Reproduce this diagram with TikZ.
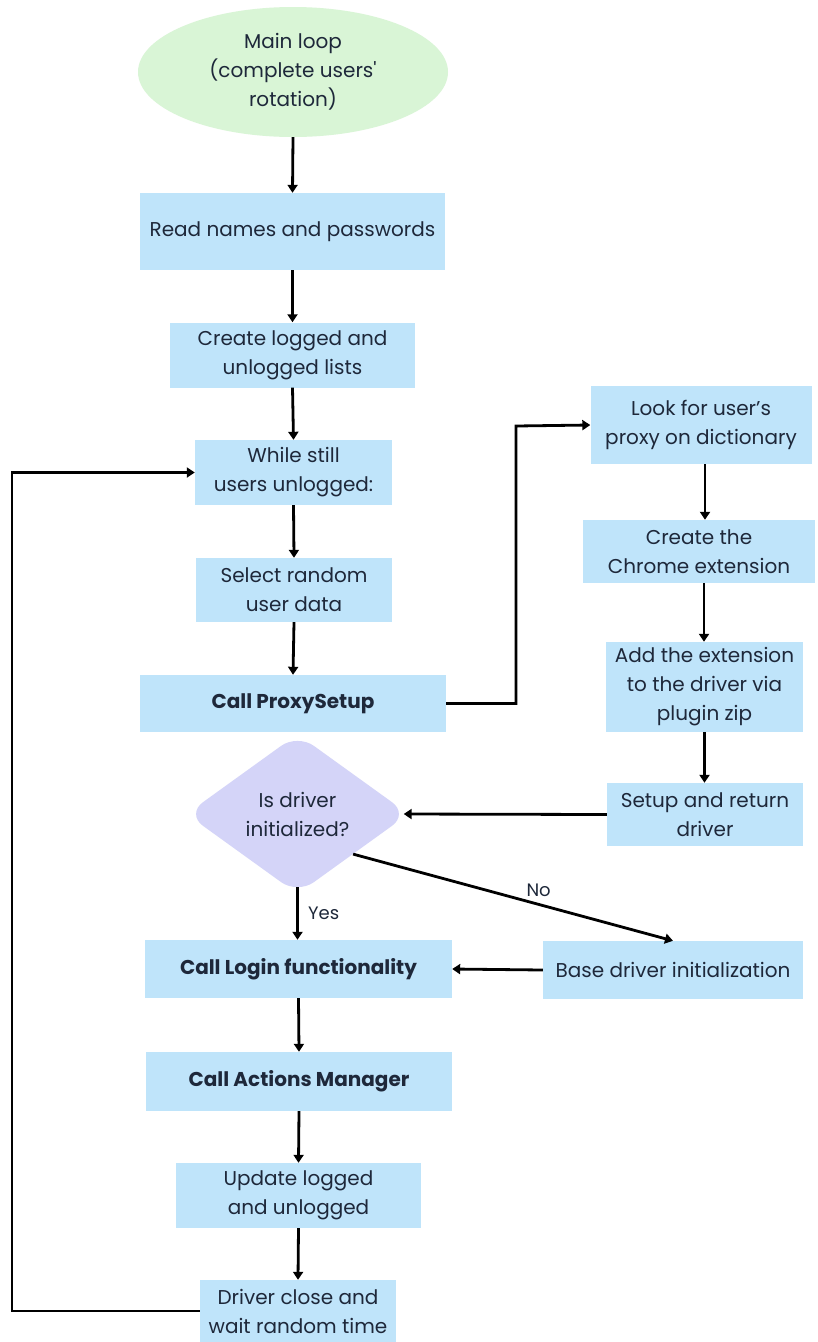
\documentclass[tikz,border=0pt]{standalone}
\usepackage{fontspec}
\setmainfont{Poppins}
\usetikzlibrary{shapes.geometric,arrows.meta}
\definecolor{boxblue}{RGB}{191,228,250}
\definecolor{ovalgreen}{RGB}{217,245,214}
\definecolor{diamondlav}{RGB}{212,212,248}
\definecolor{txt}{RGB}{30,40,58}
\tikzset{
  base/.style={inner sep=0pt, text=txt, align=center, font=\fontsize{20}{29}\selectfont},
  proc/.style={base, rectangle, fill=boxblue, minimum width=#1},
  oval/.style={base, ellipse, fill=ovalgreen, minimum width=310pt, minimum height=130pt},
  decis/.style={base, diamond, fill=diamondlav, rounded corners=20pt, minimum width=222pt, minimum height=160pt, aspect=1.39},
  conn/.style={line width=2.8pt, -{Triangle[width=10pt,length=8pt]}},
  boldtxt/.style={font=\fontsize{20}{29}\selectfont\bfseries},
  lbl/.style={text=txt, font=\fontsize{18}{21}\selectfont}
}
\begin{document}
\begin{tikzpicture}[x=1pt,y=-1pt]
\useasboundingbox (0,0) rectangle (818,1342);
\fill[white] (0,0) rectangle (818,1342);
\node[oval] (main) at (293,72) {Main loop\\(complete users\textquotesingle\\rotation)};
\node[proc=305pt, minimum height=77pt] (read) at (292.5,231.5) {Read names and passwords};
\node[proc=245pt, minimum height=65pt] (create) at (292.5,355) {Create logged and\\unlogged lists};
\node[proc=197pt, minimum height=65pt] (while) at (293.5,472.5) {While still\\users unlogged:};
\node[proc=196pt, minimum height=64pt] (select) at (294,590) {Select random\\user data};
\node[proc=306pt, minimum height=57pt, boldtxt] (proxy) at (293,703.5) {Call ProxySetup};
\node[proc=221pt, minimum height=78pt] (look) at (701,425) {Look for user's\\proxy on dictionary};
\node[proc=232pt, minimum height=63pt] (chrome) at (699,551.5) {Create the\\Chrome extension};
\node[proc=197pt, minimum height=90pt] (add) at (704.5,687) {Add the extension\\to the driver via\\plugin zip};
\node[proc=196pt, minimum height=63pt] (setup) at (705,814.5) {Setup and return\\driver};
\node[decis] (dec) at (297.5,814) {Is driver\\initialized?};
\node[proc=307pt, minimum height=58pt, boldtxt] (login) at (298.5,969) {Call Login functionality};
\node[proc=260pt, minimum height=58pt] (basei) at (673,970) {Base driver initialization};
\node[proc=306pt, minimum height=59pt, boldtxt] (actions) at (299,1081.5) {Call Actions Manager};
\node[proc=245pt, minimum height=65pt] (update) at (298.5,1195.5) {Update logged\\and unlogged};
\node[proc=196pt, minimum height=62pt] (driver) at (298,1311) {Driver close and\\wait random time};
\coordinate (pj) at (516,426);
\coordinate (lp) at (12,1311);
\draw[conn] (main.south) -- (read.north);
\draw[conn] (read.south) -- (create.north);
\draw[conn] (create.south) -- (while.north);
\draw[conn] (while.south) -- (select.north);
\draw[conn] (select.south) -- (proxy.north);
\draw[conn] (proxy.east) -| (pj) -- (look.west);
\draw[conn] ([xshift=4pt]look.south) -- ([xshift=4pt]look.south |- chrome.north);
\draw[conn] ([xshift=5pt]chrome.south) -- ([xshift=5pt]chrome.south |- add.north);
\draw[conn] (add.south) -- (add.south |- setup.north);
\draw[conn] (setup.west) -- ([xshift=-5pt]dec.east);
\draw[conn] ([yshift=7pt]dec.south) -- node[lbl, right=6pt] {Yes} (dec.south |- login.north);
\draw[conn] (dec.south east) -- node[lbl, above=3pt, pos=0.58] {No} (basei.north);
\draw[conn] (basei.west) -- (login.east);
\draw[conn] (login.south) -- (actions.north);
\draw[conn] (actions.south) -- (update.north);
\draw[conn] (update.south) -- (driver.north);
\draw[conn] (driver.west) -- (lp) |- (while.west);
\end{tikzpicture}
\end{document}
